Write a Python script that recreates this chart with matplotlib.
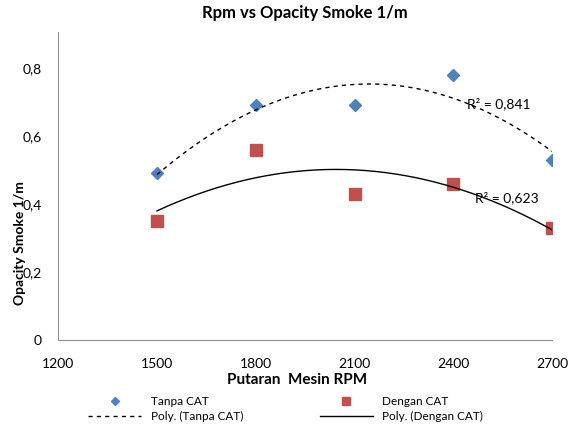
import numpy as np
import matplotlib.pyplot as plt

plt.rcParams['font.family'] = ['Lato', 'DejaVu Sans']

rpm = [1500, 1800, 2100, 2400, 2700]
tanpa_cat = [0.49, 0.69, 0.69, 0.78, 0.53]
dengan_cat = [0.35, 0.56, 0.43, 0.46, 0.33]
xticks = [1200, 1500, 1800, 2100, 2400, 2700]
yticks = [0, 0.2, 0.4, 0.6, 0.8]
ytick_labels = ['0', '0,2', '0,4', '0,6', '0,8']

fig = plt.figure(figsize=(5.71, 4.26), dpi=100)
ax = fig.add_axes([0.102, 0.202, 0.865, 0.723])

# 2nd order trendlines like excel
xs = np.linspace(rpm[0], rpm[-1], 200)
p1 = np.polyfit(rpm, tanpa_cat, 2)
p2 = np.polyfit(rpm, dengan_cat, 2)

h1, = ax.plot(rpm, tanpa_cat, 'D', color='#4f81bd', ms=6, ls='none', label='Tanpa CAT')
h3, = ax.plot(rpm, dengan_cat, 's', color='#c0504d', ms=9, ls='none', label='Dengan CAT')
h2, = ax.plot(xs, np.polyval(p1, xs), color='black', lw=1, ls=(0, (3, 3)), label='Poly. (Tanpa CAT)')
h4, = ax.plot(xs, np.polyval(p2, xs), color='black', lw=1, label='Poly. (Dengan CAT)')

ax.text(2440, 0.695, 'R² = 0,841', fontsize=10, va='center')
ax.text(2465, 0.418, 'R² = 0,623', fontsize=10, va='center')

ax.set_xlim(1200, 2700)
ax.set_ylim(0, 0.906)
ax.set_xticks(xticks)
ax.set_xticklabels([str(x) for x in xticks], fontsize=10)
ax.set_yticks(yticks)
ax.set_yticklabels(ytick_labels, fontsize=10)
ax.tick_params(length=0, pad=13)
ax.tick_params(axis='y', pad=12)
for s in ['top', 'right']:
    ax.spines[s].set_visible(False)
for s in ['left', 'bottom']:
    ax.spines[s].set_color('#909090')

ax.set_title('Rpm vs Opacity Smoke 1/m', fontsize=12, fontweight='bold', pad=10)
fig.text(0.52, 0.098, 'Putaran  Mesin RPM', fontsize=11, fontweight='bold', ha='center')
fig.text(0.035, 0.43, 'Opacity Smoke 1/m', fontsize=10, fontweight='bold', rotation=90, ha='center', va='center')

fig.legend([h1, h2, h3, h4], ['Tanpa CAT', 'Poly. (Tanpa CAT)', 'Dengan CAT', 'Poly. (Dengan CAT)'],
           ncol=2, loc='lower center', bbox_to_anchor=(0.5, -0.015), frameon=False, fontsize=8.5,
           handlelength=4.5, columnspacing=6.5, labelspacing=0.3, markerscale=0.7)

fig.savefig('out.png', dpi=100)
